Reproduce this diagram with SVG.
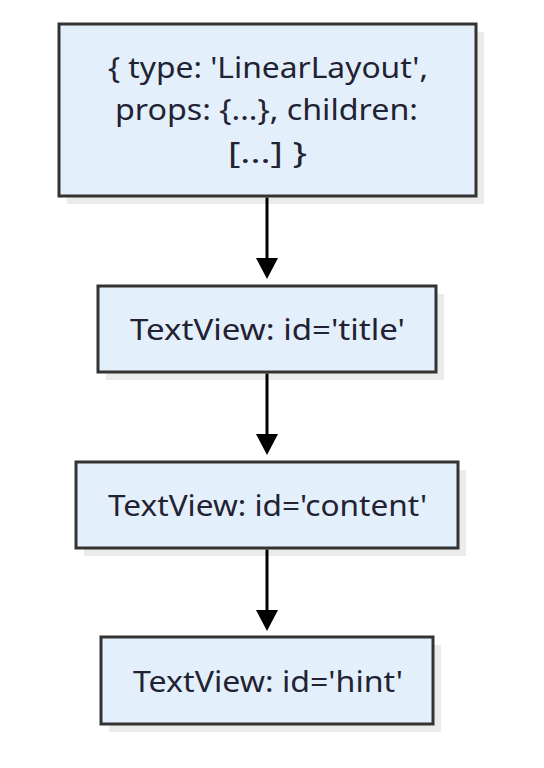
<svg xmlns="http://www.w3.org/2000/svg" width="544" height="768" viewBox="0 0 544 768">
<style>
.shadow{fill:#ebebeb}
.box{fill:#e3f0fc;stroke:#333333;stroke-width:3}
.t{font-family:"Noto Sans","Open Sans",sans-serif;font-size:29px;fill:#222233;text-anchor:middle}
.edge{stroke:#000;stroke-width:3;fill:none}
</style>
<rect width="544" height="768" fill="#ffffff"/>
<g id="root">
<rect class="shadow" x="67" y="32" width="417" height="172"/>
<rect class="box" x="59" y="24" width="417" height="172"/>
<text class="t" x="268" y="78" textLength="320" lengthAdjust="spacingAndGlyphs">{ type: 'LinearLayout',</text>
<text class="t" x="266.5" y="120" textLength="303" lengthAdjust="spacingAndGlyphs">props: {...}, children:</text>
<text class="t" x="267.5" y="163" textLength="79" lengthAdjust="spacingAndGlyphs">[...] }</text>
</g>
<g id="title">
<rect class="shadow" x="106" y="294" width="338" height="86"/>
<rect class="box" x="98" y="286" width="338" height="86"/>
<text class="t" x="267.5" y="340" textLength="275" lengthAdjust="spacingAndGlyphs">TextView: id='title'</text>
</g>
<g id="content">
<rect class="shadow" x="84" y="470" width="382" height="86"/>
<rect class="box" x="76" y="462" width="382" height="86"/>
<text class="t" x="267.5" y="516" textLength="319" lengthAdjust="spacingAndGlyphs">TextView: id='content'</text>
</g>
<g id="hint">
<rect class="shadow" x="109" y="645" width="332" height="87"/>
<rect class="box" x="101" y="637" width="332" height="87"/>
<text class="t" x="268" y="692" textLength="270" lengthAdjust="spacingAndGlyphs">TextView: id='hint'</text>
</g>
<g id="edges">
<path class="edge" d="M267,197.5 V262"/>
<path d="M256,258 L278,258 L267,279 z" fill="#000"/>
<path class="edge" d="M267,373.5 V438"/>
<path d="M256,434 L278,434 L267,455 z" fill="#000"/>
<path class="edge" d="M267,549.5 V614"/>
<path d="M256,610 L278,610 L267,631 z" fill="#000"/>
</g>
</svg>
